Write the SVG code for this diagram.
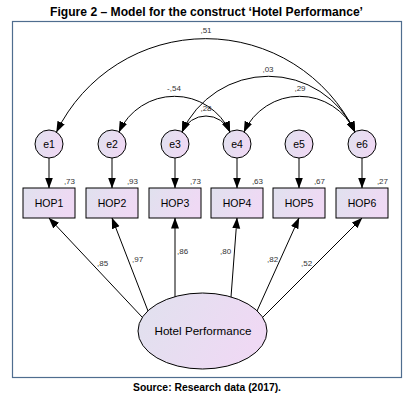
<svg xmlns="http://www.w3.org/2000/svg" width="411" height="401" viewBox="0 0 411 401">
<defs>
<linearGradient id="g" x1="0" y1="0" x2="1" y2="0.3">
<stop offset="0" stop-color="#e0e1ee"/>
<stop offset="1" stop-color="#efd9f4"/>
</linearGradient>
<marker id="ah" markerUnits="userSpaceOnUse" markerWidth="11" markerHeight="9" refX="10.5" refY="4" orient="auto-start-reverse" viewBox="0 0 11 8">
<path d="M0,0 L11,4 L0,8 z" fill="#000"/>
</marker>
<style>
.node{fill:url(#g);stroke:#000;stroke-width:1}
.nt{font-family:"Liberation Sans",Arial,sans-serif;font-size:10.5px;fill:#000;text-anchor:middle}
.sm{font-family:"Liberation Sans",Arial,sans-serif;font-size:8px;fill:#333}
.cn{fill:none;stroke:#000;stroke-width:1}
.ar{marker-end:url(#ah)}
.dbl{marker-start:url(#ah);marker-end:url(#ah)}
</style>
</defs>
<rect width="411" height="401" fill="#fff"/>
<text x="206.5" y="15.5" font-family="'Liberation Sans',Arial,sans-serif" font-size="12.5" font-weight="bold" text-anchor="middle" textLength="313" lengthAdjust="spacingAndGlyphs">Figure 2 – Model for the construct ‘Hotel Performance’</text>
<rect x="12.5" y="21.5" width="389" height="356" fill="none" stroke="#4f6d8f" stroke-width="1.2"/>
<g id="connectors">
<path class="cn dbl" d="M56.5,132 A166,166 0 0,1 355,132"/>
<path class="cn dbl" d="M182,132 A95,95 0 0,1 355,132"/>
<path class="cn dbl" d="M119,132 A61,61 0 0,1 230,132"/>
<path class="cn dbl" d="M182,132 A26,26 0 0,1 230,132"/>
<path class="cn dbl" d="M244,132 A61,61 0 0,1 355,132"/>
<path class="cn ar" d="M49,158 L49,188"/>
<path class="cn ar" d="M112,158 L112,188"/>
<path class="cn ar" d="M175,158 L175,188"/>
<path class="cn ar" d="M237,158 L237,188"/>
<path class="cn ar" d="M299,158 L299,188"/>
<path class="cn ar" d="M362,158 L362,188"/>
<path class="cn ar" d="M142,317 L49,218"/>
<path class="cn ar" d="M148,311 L112,218"/>
<path class="cn ar" d="M175,297 L175,218"/>
<path class="cn ar" d="M231,297 L237,218"/>
<path class="cn ar" d="M257,311 L299,218"/>
<path class="cn ar" d="M263,317 L362,218"/>
<text class="sm" x="206" y="33" text-anchor="middle">,51</text>
<text class="sm" x="268" y="72" text-anchor="middle">,03</text>
<text class="sm" x="174" y="91" text-anchor="middle">-,54</text>
<text class="sm" x="206" y="111" text-anchor="middle">,28</text>
<text class="sm" x="300" y="91" text-anchor="middle">,29</text>
<text class="sm" x="97" y="266">,85</text>
<text class="sm" x="132" y="262">,97</text>
<text class="sm" x="177" y="254">,86</text>
<text class="sm" x="220" y="254">,80</text>
<text class="sm" x="267" y="262">,82</text>
<text class="sm" x="301" y="266">,52</text>
</g>
<g id="e1"><circle class="node" cx="49" cy="144" r="14"/><text class="nt" x="49" y="148">e1</text></g>
<g id="e2"><circle class="node" cx="112" cy="144" r="14"/><text class="nt" x="112" y="148">e2</text></g>
<g id="e3"><circle class="node" cx="175" cy="144" r="14"/><text class="nt" x="175" y="148">e3</text></g>
<g id="e4"><circle class="node" cx="237" cy="144" r="14"/><text class="nt" x="237" y="148">e4</text></g>
<g id="e5"><circle class="node" cx="299" cy="144" r="14"/><text class="nt" x="299" y="148">e5</text></g>
<g id="e6"><circle class="node" cx="362" cy="144" r="14"/><text class="nt" x="362" y="148">e6</text></g>
<g id="HOP1"><rect class="node" x="23" y="188" width="52" height="30"/><text class="nt" x="49" y="207">HOP1</text><text class="sm" x="75" y="184" text-anchor="end">,73</text></g>
<g id="HOP2"><rect class="node" x="86" y="188" width="52" height="30"/><text class="nt" x="112" y="207">HOP2</text><text class="sm" x="138" y="184" text-anchor="end">,93</text></g>
<g id="HOP3"><rect class="node" x="149" y="188" width="52" height="30"/><text class="nt" x="175" y="207">HOP3</text><text class="sm" x="201" y="184" text-anchor="end">,73</text></g>
<g id="HOP4"><rect class="node" x="211" y="188" width="52" height="30"/><text class="nt" x="237" y="207">HOP4</text><text class="sm" x="263" y="184" text-anchor="end">,63</text></g>
<g id="HOP5"><rect class="node" x="273" y="188" width="52" height="30"/><text class="nt" x="299" y="207">HOP5</text><text class="sm" x="325" y="184" text-anchor="end">,67</text></g>
<g id="HOP6"><rect class="node" x="336" y="188" width="52" height="30"/><text class="nt" x="362" y="207">HOP6</text><text class="sm" x="388" y="184" text-anchor="end">,27</text></g>
<g id="HotelPerformance"><ellipse class="node" cx="202.5" cy="331" rx="64.5" ry="38"/><text class="nt" x="203" y="335" font-size="12" textLength="97" lengthAdjust="spacingAndGlyphs">Hotel Performance</text></g>
<text x="207" y="390.5" font-family="'Liberation Sans',Arial,sans-serif" font-size="10.5" font-weight="bold" text-anchor="middle" textLength="148" lengthAdjust="spacingAndGlyphs">Source: Research data (2017).</text>
</svg>
